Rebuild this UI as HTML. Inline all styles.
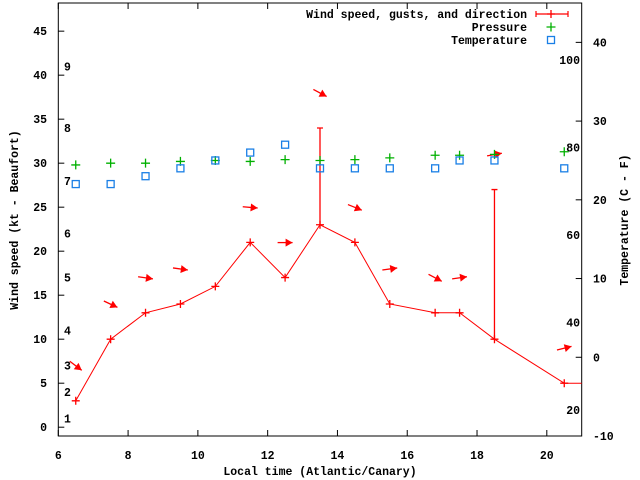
<!DOCTYPE html>
<html><head><meta charset="utf-8"><style>
body{margin:0;background:#fff}
svg{display:block;font-family:"Liberation Mono",monospace;font-weight:bold;font-size:11.5px}
</style></head><body>
<svg id="chart" width="640" height="480" viewBox="0 0 640 480">
<rect width="640" height="480" fill="#fff"/>
<g id="g"></g>
</svg>
<script>
const times=[6.5,7.5,8.5,9.5,10.5,11.5,12.5,13.5,14.5,15.5,16.8,17.5,18.5,20.5];
const speeds=[3,10,13,14,16,21,17,23,21,14,13,13,10,5];
const gusts=[null,null,null,null,null,null,null,34,null,null,null,null,27,null];
const directions=[37,25,8,8,null,5,0,28,22,-8,28,-8,-10,-14];
const pressures=[29.8,30.0,30.0,30.2,30.3,30.2,30.4,30.3,30.4,30.6,30.9,30.9,31.0,31.3];
const temps=[22,22,23,24,25,26,27,24,24,24,24,25,25,24];
const xTicks=[6,8,10,12,14,16,18,20];
const yTicks=[0,5,10,15,20,25,30,35,40,45];
const y2Ticks=[-10,0,10,20,30,40];
const beaufortKnots=[1,4,7,11,17,22,28,34,41];
const beaufortLabels=["1","2","3","4","5","6","7","8","9"];
const fahrenheit=[20,40,60,80,100];

const L=58.3,R=581.7,T=3,B=436;
const X=v=>L+(v-6)/(21-6)*(R-L);
const Y=v=>B-(v+1)/(48.2+1)*(B-T);
const Y2=v=>B-(v+10)/(45+10)*(B-T);
const g=document.getElementById('g');
const NS='http://www.w3.org/2000/svg';
function mk(tag,attrs,parent){const e=document.createElementNS(NS,tag);for(const k in attrs)e.setAttribute(k,attrs[k]);(parent||g).appendChild(e);return e;}

// frame
let fr=mk('rect',{x:L,y:T,width:R-L,height:B-T,fill:'none',stroke:'#000','stroke-width':1});



xTicks.forEach(v=>{
  const x=X(v);
  mk('line',{x1:x,y1:B,x2:x,y2:B-6,stroke:'#000'});
  mk('line',{x1:x,y1:T,x2:x,y2:T+6,stroke:'#000'});
  const t=mk('text',{x:x,y:459,'text-anchor':'middle'});t.textContent=v;
  
  
});
yTicks.forEach(v=>{
  const y=Y(v);
  mk('line',{x1:L,y1:y,x2:L+6,y2:y,stroke:'#000'});
  const t=mk('text',{x:47,y:y+4,'text-anchor':'end'});t.textContent=v;
  
  
});
y2Ticks.forEach(v=>{
  const y=Y2(v);
  mk('line',{x1:R,y1:y,x2:R-6,y2:y,stroke:'#000'});
  const t=mk('text',{x:593,y:y+4,'text-anchor':'start'});t.textContent=v;
  
  
});
beaufortKnots.forEach((k,i)=>{
  const t=mk('text',{x:64,y:Y(k)+4});t.textContent=beaufortLabels[i];
  
  
});
fahrenheit.forEach(f=>{
  const t=mk('text',{x:580,y:Y2((f-32)/1.8)+4,'text-anchor':'end'});t.textContent=f;
  
  
});

// axis titles
let t1=mk('text',{x:320,y:475,'text-anchor':'middle'});t1.textContent='Local time (Atlantic/Canary)';


let t2=mk('text',{x:0,y:0,'text-anchor':'middle',transform:'translate(18,220) rotate(-90)'});t2.textContent='Wind speed (kt - Beaufort)';


let t3=mk('text',{x:0,y:0,'text-anchor':'middle',transform:'translate(628,220) rotate(-90)'});t3.textContent='Temperature (C - F)';



function plus(x,y,c,s){mk('path',{d:`M${x-s} ${y}H${x+s}M${x} ${y-s}V${y+s}`,stroke:c,'stroke-width':1.3,fill:'none'});}
function square(x,y,c){mk('rect',{x:x-3.5,y:y-3.5,width:7,height:7,fill:'none',stroke:c,'stroke-width':1.3});}
function arrow(cx,cy,deg){
  const a=deg*Math.PI/180,c=Math.cos(a),s=Math.sin(a),len=15;
  const x0=cx-c*len/2,y0=cy-s*len/2,x1=cx+c*len/2,y1=cy+s*len/2;
  const ar=mk('g',{});
  
  
  mk('line',{x1:x0,y1:y0,x2:x1,y2:y1,stroke:'#f00','stroke-width':1.3},ar);
  const hx=x1-c*7,hy=y1-s*7;
  mk('polygon',{points:`${x1},${y1} ${hx-s*4},${hy+c*4} ${hx+s*4},${hy-c*4}`,fill:'#f00'},ar);
}

// wind line
let pts=times.map((t,i)=>X(t)+','+Y(speeds[i])).join(' ');
let pl=mk('polyline',{points:pts,fill:'none',stroke:'#f00','stroke-width':1});


const last=times.length-1;
mk('line',{x1:X(times[last]),y1:Y(speeds[last]),x2:R,y2:Y(speeds[last]),stroke:'#f00'});
times.forEach((t,i)=>{
  const x=X(t);
  plus(x,Y(speeds[i]),'#f00',4);
  let top=speeds[i];
  if(gusts[i]!=null){
    top=gusts[i];
    const gb=mk('path',{d:`M${x} ${Y(speeds[i])}V${Y(gusts[i])}M${x-3} ${Y(gusts[i])}H${x+3}`,stroke:'#f00','stroke-width':1.3,fill:'none'});
    
    
  }
  if(directions[i]!=null) arrow(x,Y(top)-35,directions[i]);
  plus(x,Y(pressures[i]),'#00b000',4.5);
  square(x,Y2(temps[i]),'#1a7fe6');
});

// legend
const lg=mk('g',{});


[['Wind speed, gusts, and direction',14],['Pressure',27],['Temperature',40]].forEach((e,i)=>{
  const t=mk('text',{x:527,y:e[1]+4,'text-anchor':'end'},lg);t.textContent=e[0];
  
  
});
mk('path',{d:'M536 14H568M536 11V17M568 11V17',stroke:'#f00','stroke-width':1.2,fill:'none'},lg);
plus(551,14,'#f00',4);
plus(551,27,'#00b000',4.5);
square(551,40,'#1a7fe6');
</script>
</body></html>
